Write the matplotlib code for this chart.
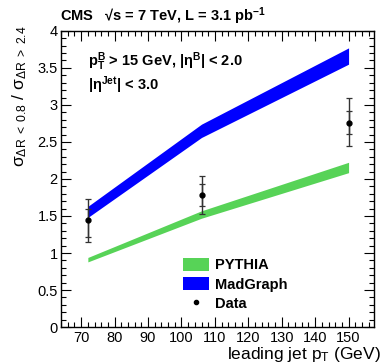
import matplotlib
matplotlib.use("Agg")
import matplotlib.pyplot as plt
from matplotlib.patches import Patch
from matplotlib.lines import Line2D
from matplotlib.ticker import MultipleLocator, FuncFormatter

plt.rcParams["font.family"] = ["Liberation Sans", "DejaVu Sans"]
plt.rcParams["mathtext.fontset"] = "custom"
plt.rcParams["mathtext.rm"] = "Liberation Sans"
plt.rcParams["mathtext.it"] = "Liberation Sans:italic"
plt.rcParams["mathtext.bf"] = "Liberation Sans:bold"

# ── Data ──────────────────────────────────────────────────────────────────────
pt_bins = [72, 106, 150]

data_ratio = [1.44, 1.78, 2.76]
stat_lo = [1.21, 1.635, 2.61]
stat_hi = [1.60, 1.93, 2.92]
tot_lo = [1.145, 1.527, 2.44]
tot_hi = [1.73, 2.045, 3.09]

madgraph_lo = [1.48, 2.56, 3.55]
madgraph_hi = [1.63, 2.74, 3.77]

pythia_lo = [0.88, 1.47, 2.085]
pythia_hi = [0.94, 1.57, 2.225]

GREEN = "#57d357"
BLUE = "#0000ff"

# ── Plot ──────────────────────────────────────────────────────────────────────
fig = plt.figure(figsize=(3.82, 3.63), dpi=100)
ax = fig.add_axes([0.160, 0.099, 0.819, 0.816])

ax.fill_between(pt_bins, pythia_lo, pythia_hi, color=GREEN, lw=0)
ax.fill_between(pt_bins, madgraph_lo, madgraph_hi, color=BLUE, lw=0)

tot_err = [[d - l for d, l in zip(data_ratio, tot_lo)],
           [h - d for d, h in zip(data_ratio, tot_hi)]]
stat_err = [[d - l for d, l in zip(data_ratio, stat_lo)],
            [h - d for d, h in zip(data_ratio, stat_hi)]]
ax.errorbar(pt_bins, data_ratio, yerr=tot_err, fmt="none", ecolor="#333333",
            elinewidth=1.0, capsize=2.5, capthick=0.9)
ax.errorbar(pt_bins, data_ratio, yerr=stat_err, fmt="o", color="black",
            ecolor="#333333", elinewidth=1.0, capsize=2.0, capthick=0.9, ms=3.5)

ax.set_xlim(64, 157.6)
ax.set_ylim(0, 4)
ax.xaxis.set_major_locator(MultipleLocator(10))
ax.xaxis.set_minor_locator(MultipleLocator(2))
ax.yaxis.set_major_locator(MultipleLocator(0.5))
ax.yaxis.set_minor_locator(MultipleLocator(0.1))
ax.yaxis.set_major_formatter(FuncFormatter(lambda v, _: f"{v:g}"))
ax.tick_params(which="both", direction="in", top=True, right=True,
               labelsize=10.5, width=0.8, colors="black")
ax.tick_params(which="major", length=7, pad=2.5)
ax.tick_params(which="minor", length=3.5)
for sp in ax.spines.values():
    sp.set_linewidth(1.0)

ax.text(1.022, -0.062, r"leading jet p$_\mathrm{T}$ (GeV)", transform=ax.transAxes,
        ha="right", va="top", fontsize=12.5)
ax.text(-0.131, 1.02,
        r"$\mathrm{\sigma}_{\mathrm{\Delta R}\ <\ 0.8}\ /\ \mathrm{\sigma}_{\mathrm{\Delta R}\ >\ 2.4}$",
        transform=ax.transAxes, rotation=90, ha="center", va="top", fontsize=12.5)

fig.text(0.158, 0.955, "CMS   √s = 7 TeV, L = 3.1 pb$^{\\mathbf{-1}}$",
         fontsize=10.5, fontweight="bold", ha="left", va="center")

ax.text(0.085, 0.895, r"$\mathbf{p_{T}^{B}}$ > 15 GeV, |$\mathbf{\eta^{B}}$| < 2.0",
        transform=ax.transAxes, fontsize=10.5, fontweight="bold", ha="left", va="center")
ax.text(0.085, 0.815, r"|$\mathbf{\eta^{Jet}}$| < 3.0",
        transform=ax.transAxes, fontsize=10.5, fontweight="bold", ha="left", va="center")

handles = [Patch(color=GREEN, lw=0), Patch(color=BLUE, lw=0),
           Line2D([], [], marker="o", color="black", ls="none", ms=3)]
ax.legend(handles, ["PYTHIA", "MadGraph", "Data"], loc="upper left",
          bbox_to_anchor=(0.367, 0.258), frameon=False, borderpad=0,
          handlelength=1.75, handleheight=0.95, handletextpad=0.4,
          labelspacing=0.35, prop={"weight": "bold", "size": 10.5})

fig.savefig("out.png", dpi=100)
